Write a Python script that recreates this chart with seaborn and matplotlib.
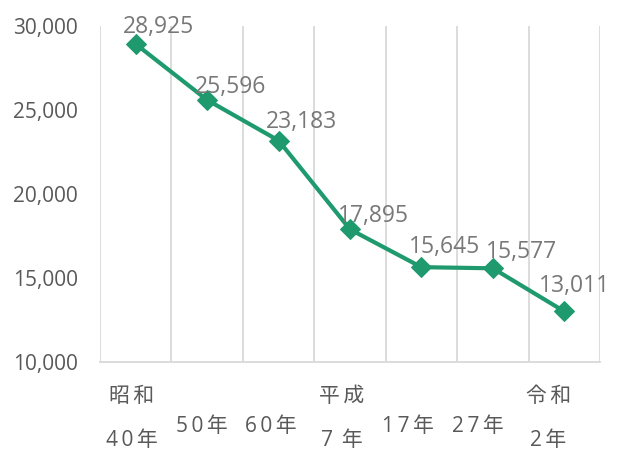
import numpy as np
import pandas as pd
import seaborn as sns
from matplotlib import pyplot as plt
from matplotlib import transforms

### Data ###
periods = ['昭和40年', '昭和50年', '昭和60年', '平成7年', '平成17年', '平成27年', '令和2年']
values = [28925, 25596, 23183, 17895, 15645, 15577, 13011]
era_line = ['昭\u2009和', '', '', '平\u2009成', '', '', '令\u2009和']
year_line = ['4\u20090\u2009年', '5\u20090\u2009年', '6\u20090\u2009年', '7 \u2009年',
             '1\u20097\u2009年', '2\u20097\u2009年', '2\u2009年']
yticks = [10000, 15000, 20000, 25000, 30000]

df = pd.DataFrame({'pos': np.arange(len(periods)), 'value': values})

### Style ###
sns.set_theme(style='white')
plt.rcParams['font.family'] = ['Open Sans', 'DejaVu Sans']
green = '#1f9a6f'
grey_txt = '#595959'
cjk = ['Open Sans', 'Noto Sans CJK JP', 'DejaVu Sans']

fig = plt.figure(figsize=(6.18, 4.54), dpi=100)
ax = fig.add_axes([100 / 618, 1 - 362 / 454, 500 / 618, 336 / 454])

sns.lineplot(x='pos', y='value', data=df, color=green, lw=3, marker='D',
             markersize=10, markeredgecolor=green, ax=ax, zorder=3)

ax.set_xlim(-0.5, len(periods) - 0.5)
ax.set_ylim(10000, 30000)
for b in np.arange(-0.5, len(periods), 1.0):
    ax.axvline(b, color='#d9d9d9', lw=1.3, zorder=1)

ax.set_yticks(yticks)
ax.set_yticklabels([f'{v:,}' for v in yticks], fontsize=15, color=grey_txt)
ax.tick_params(axis='y', length=0, pad=16)
ax.set_xticks([])
ax.set_xlabel('')
ax.set_ylabel('')
for s in ['top', 'right', 'left']:
    ax.spines[s].set_visible(False)
ax.spines['bottom'].set_color('#d9d9d9')
ax.spines['bottom'].set_linewidth(1.3)

### Data labels ###
label_off = [(23, 11), (23, 7), (23, 13), (23, 7), (23, 14), (29, 10), (10, 19)]
for i, v in enumerate(values):
    ax.annotate(f'{v:,}', (i, v), xytext=label_off[i], textcoords='offset pixels',
                ha='center', va='baseline', fontsize=16.5, color='#787878', zorder=4)

### Category labels ###
trans = transforms.blended_transform_factory(ax.transData, fig.transFigure)
x_off = [-4, -5, -8, -8, -13, -15, -16]
for i in range(len(periods)):
    tr = trans + transforms.ScaledTranslation(x_off[i] / 100, 0, fig.dpi_scale_trans)
    if era_line[i]:
        ax.text(i, 1 - 397 / 454, era_line[i], transform=tr, ha='center', va='center',
                fontsize=15, color=grey_txt, family=cjk)
        ax.text(i, 1 - 440 / 454, year_line[i], transform=tr, ha='center', va='center',
                fontsize=15, color=grey_txt, family=cjk)
    else:
        ax.text(i, 1 - 427 / 454, year_line[i], transform=tr, ha='center', va='center',
                fontsize=15, color=grey_txt, family=cjk)

fig.savefig('out.png', dpi=100)
